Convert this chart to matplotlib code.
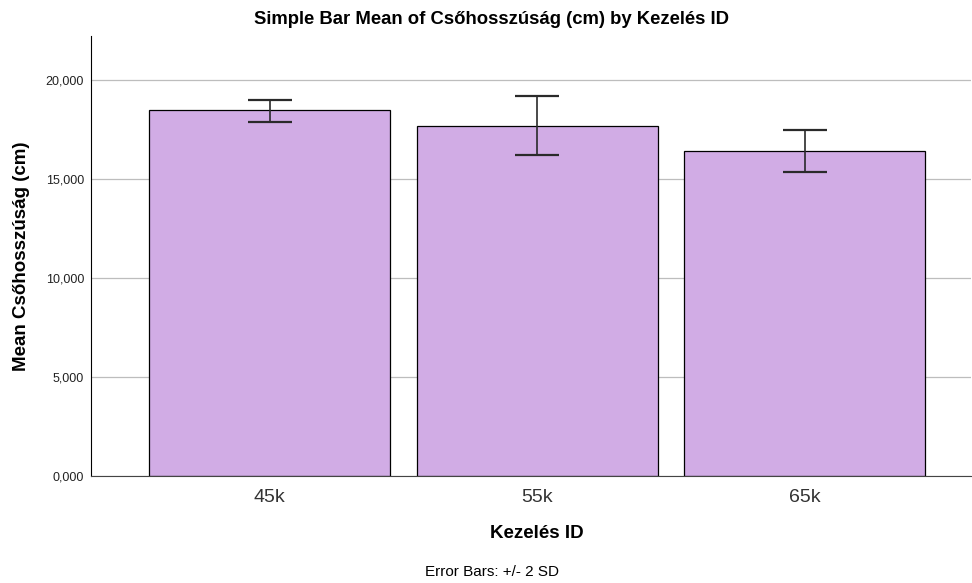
import numpy as np
import matplotlib.pyplot as plt
from matplotlib.ticker import FuncFormatter

plt.rcParams['font.family'] = ['Liberation Sans', 'DejaVu Sans']

# data
groups = ["45k", "55k", "65k"]
means = [18.47, 17.68, 16.38]
err_low = [17.86, 16.21, 15.32]
err_high = [18.99, 19.16, 17.44]

bar_color = "#D1ACE5"

fig = plt.figure(figsize=(9.72, 5.83), dpi=100)
ax = fig.add_axes([0.0936, 0.1835, 0.905, 0.7545])

x = np.arange(len(groups))
ax.bar(x, means, width=0.9, color=bar_color, edgecolor="black", linewidth=0.9, zorder=2)

lo = np.array(means) - np.array(err_low)
hi = np.array(err_high) - np.array(means)
ax.errorbar(x, means, yerr=[lo, hi], fmt="none", ecolor="#2a2a2a",
            elinewidth=1.2, capsize=16, capthick=1.6, zorder=3)

ax.set_xlim(-0.668, 2.62)
ax.set_ylim(0, 22.2)
ax.set_yticks([0, 5, 10, 15, 20])
ax.yaxis.set_major_formatter(FuncFormatter(lambda v, p: f"{v:.3f}".replace(".", ",")))
ax.set_xticks(x)
ax.set_xticklabels(groups)

ax.grid(axis="y", color="#BDBDBD", linewidth=0.9, zorder=0)
ax.set_axisbelow(True)
for s in ["top", "right"]:
    ax.spines[s].set_visible(False)
ax.spines["left"].set_color("black")
ax.spines["bottom"].set_color("#444444")

ax.tick_params(axis="y", length=0, pad=5, labelsize=9, labelcolor="#222222")
ax.tick_params(axis="x", length=0, pad=9, labelsize=14, labelcolor="#333333")

fig.text(0.506, 0.966, "Simple Bar Mean of Csőhosszúság (cm) by Kezelés ID",
         ha="center", va="center", fontsize=13.3, fontweight="bold")

ax.set_ylabel("Mean Csőhosszúság (cm)", fontsize=13.5, fontweight="bold")
ax.yaxis.set_label_coords(-0.0795, 0.5)
ax.yaxis.label.set_va("center")
ax.set_xlabel("Kezelés ID", fontsize=13.5, fontweight="bold")
ax.xaxis.set_label_coords(0.507, -0.13)
ax.xaxis.label.set_va("center")

fig.text(0.506, 0.019, "Error Bars: +/- 2 SD", ha="center", va="center", fontsize=11)

fig.savefig("out.png", dpi=100)
